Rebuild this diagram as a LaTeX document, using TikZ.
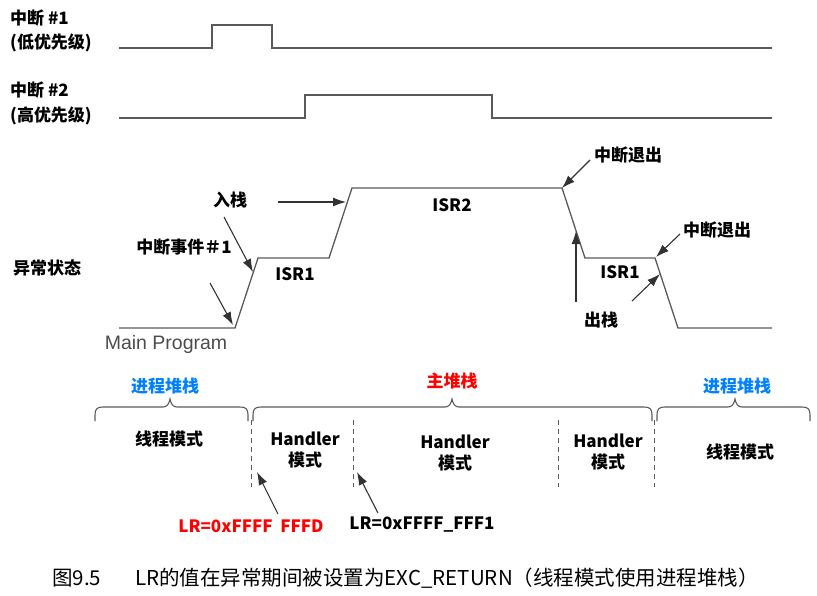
\documentclass[tikz,border=0pt]{standalone}
\usepackage{fontspec}
\setmainfont{Noto Sans CJK SC}
\newfontfamily\arialf{Liberation Sans}
\usetikzlibrary{arrows.meta}
\definecolor{wavegray}{RGB}{90,90,90}
\definecolor{ptrgray}{RGB}{50,50,50}
\definecolor{stackblue}{RGB}{0,128,255}
\definecolor{stackred}{RGB}{255,0,0}
\newcommand\mybrace[3]{%
  \draw[bracestyle] (#1,421) -- (#1,415) .. controls (#1,409) and ({#1+2},407) .. ({#1+8},407)
    -- ({#3-7},407) .. controls ({#3-3},407) and ({#3-1},404) .. (#3,399)
    .. controls ({#3+1},404) and ({#3+3},407) .. ({#3+7},407)
    -- ({#2-8},407) .. controls ({#2-2},407) and (#2,409) .. (#2,415) -- (#2,421);}
\begin{document}
\begin{tikzpicture}[x=1pt,y=-1pt,
  wave/.style={draw=wavegray,line width=1.3pt,line join=miter},
  ptr/.style={draw=ptrgray,line width=1.1pt,-{Latex[length=13pt,width=9pt]}},
  lbl/.style={font=\fontsize{17}{19}\selectfont\bfseries,inner sep=0pt},
  lblL/.style={lbl,anchor=west},
  sep/.style={draw=wavegray,line width=1pt,dash pattern=on 5pt off 4pt},
  bracestyle/.style={draw=wavegray,line width=1.1pt},
  caption/.style={font=\fontsize{20.5}{22}\selectfont,inner sep=0pt,anchor=west}]
\useasboundingbox (0,0) rectangle (817,595);

% ---- interrupt #1
\node[lblL] (i1a) at (10,18) {中断 \#1};
\node[lblL] (i1b) at (10,43) {(低优先级)};
\draw[wave] (119,48) -- (212,48) -- (212,25) -- (272,25) -- (272,48) -- (772,48);
% ---- interrupt #2
\node[lblL] (i2a) at (10,90) {中断 \#2};
\node[lblL] (i2b) at (10,116) {(高优先级)};
\draw[wave] (119,118) -- (305,118) -- (305,95) -- (492,95) -- (492,118) -- (772,118);

% ---- exception state
\coordinate (m0) at (119,328);
\coordinate (m1) at (235,328);
\coordinate (a1) at (258,258);
\coordinate (a2) at (329,258);
\coordinate (b1) at (352,188);
\coordinate (b2) at (562,188);
\coordinate (c1) at (585,258);
\coordinate (c2) at (655,258);
\coordinate (d1) at (678,328);
\coordinate (d2) at (772,328);
\draw[wave] (m0) -- (m1) -- (a1) -- (a2) -- (b1) -- (b2) -- (c1) -- (c2) -- (d1) -- (d2);

\node[lblL] (state) at (13,268) {异常状态};
\node[lbl] (ev1) at (184,247) {中断事件＃1};
\node[lbl] (push) at (230,200) {入栈};
\node[lbl] (isr1a) at (295,274) {ISR1};
\node[lbl] (isr2) at (452,205) {ISR2};
\node[lbl] (exit1) at (628,155) {中断退出};
\node[lbl] (exit2) at (717,230) {中断退出};
\node[lbl] (isr1b) at (620,272) {ISR1};
\node[lbl] (pop) at (601,320) {出栈};
\node[font=\arialf\fontsize{19.5}{21}\selectfont,text=black!70,inner sep=0pt] (mainp) at (166,344) {Main Program};

% arrows in the state diagram
\coordinate (t1) at (210,283);  \coordinate (h1) at (233,325);
\coordinate (t2) at (224,217);  \coordinate (h2) at (253,272);
\coordinate (t3) at (278,202);  \coordinate (h3) at (346,202);
\coordinate (t4) at (590,160);
\coordinate (t5) at (576,302);  \coordinate (h5) at (576,231);
\coordinate (t6) at (680,234);  \coordinate (h6) at (656,257);
\coordinate (t7) at (632,301);  \coordinate (h7) at (660,274);
\draw[ptr] (t1) -- (h1);
\draw[ptr] (t2) -- (h2);
\draw[ptr] (t3) -- (h3);
\draw[ptr] (t4) -- (b2);
\draw[ptr] (t5) -- (h5);
\draw[ptr] (t6) -- (h6);
\draw[ptr] (t7) -- (h7);

% ---- stacks
\node[lbl,text=stackblue] (psp1) at (165,386) {进程堆栈};
\node[lbl,text=stackred] (msp) at (452,381) {主堆栈};
\node[lbl,text=stackblue] (psp2) at (737,386) {进程堆栈};
\mybrace{95}{248}{170}
\mybrace{253}{652}{452}
\mybrace{657}{810}{735}

% separators
\coordinate (s1t) at (251,420); \coordinate (s1b) at (251,487);
\coordinate (s2t) at (353,420); \coordinate (s2b) at (353,487);
\coordinate (s3t) at (558,420); \coordinate (s3b) at (558,487);
\coordinate (s4t) at (654,420); \coordinate (s4b) at (654,487);
\draw[sep] (s1t) -- (s1b);
\draw[sep] (s2t) -- (s2b);
\draw[sep] (s3t) -- (s3b);
\draw[sep] (s4t) -- (s4b);

% modes
\node[lbl] (thr1) at (169,439) {线程模式};
\node[lbl,align=center] (h1m) at (305,450) {Handler\\[2pt]模式};
\node[lbl,align=center] (h2m) at (455,453) {Handler\\[2pt]模式};
\node[lbl,align=center] (h3m) at (608,452) {Handler\\[2pt]模式};
\node[lbl] (thr2) at (740,452) {线程模式};

% LR values
\node[lbl,text=stackred] (lr1) at (251,526) {LR=0xFFFF\ \ FFFD};
\node[lbl] (lr2) at (422,525) {LR=0xFFFF\_FFF1};
\coordinate (u1) at (278,514); \coordinate (v1) at (257,472);
\coordinate (u2) at (378,513); \coordinate (v2) at (357,472);
\draw[ptr] (u1) -- (v1);
\draw[ptr] (u2) -- (v2);

% caption
\node[caption] (capn) at (52,578) {图9.5};
\node[caption] (capt) at (135,578) {LR的值在异常期间被设置为EXC\_RETURN（线程模式使用进程堆栈）};
\end{tikzpicture}
\end{document}
